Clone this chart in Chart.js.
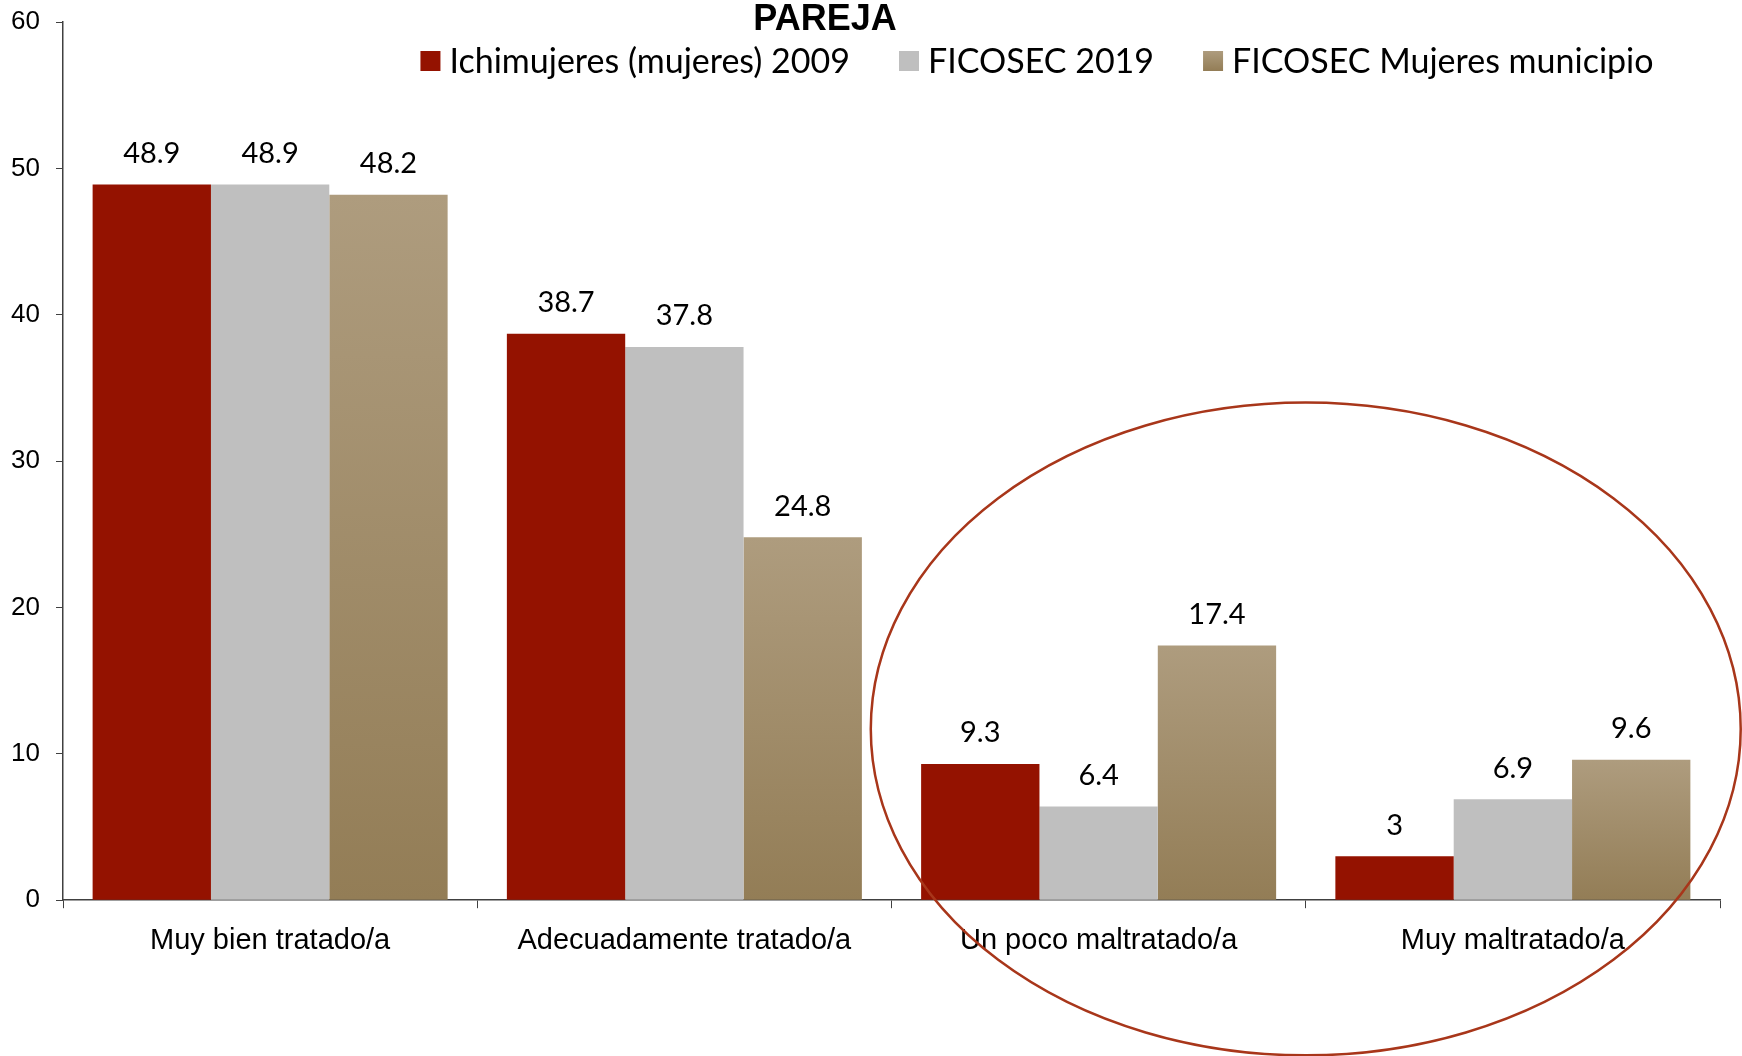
<!DOCTYPE html>
<html>
<head>
<meta charset="utf-8">
<script src="https://cdn.jsdelivr.net/npm/chart.js@4/dist/chart.umd.min.js"></script>
<style>
  html, body { margin: 0; padding: 0; background: #fff; }
  #wrap { width: 1742px; height: 1056px; position: relative; }
</style>
</head>
<body>
<div id="wrap"><canvas id="parejaChart"></canvas></div>
<script>
// PAREJA — comparación de trato percibido

const categories = ["Muy bien tratado/a", "Adecuadamente tratado/a", "Un poco maltratado/a", "Muy maltratado/a"];
const seriesNames = ["Ichimujeres (mujeres) 2009", "FICOSEC 2019", "FICOSEC Mujeres municipio"];
const ichimujeres2009 = [48.9, 38.7, 9.3, 3];
const ficosec2019 = [48.9, 37.8, 6.4, 6.9];
const ficosecMujeres = [48.2, 24.8, 17.4, 9.6];
const yTicks = [0, 10, 20, 30, 40, 50, 60];

const RED = "#941200";
const GRAY = "#bfbfbf";
const TAN_TOP = "#ae9c7e";
const TAN_BOTTOM = "#937d56";

// tan bars fade from light (top) to darker (bottom), one gradient per bar
function tanGradient(ctx) {
  const chart = ctx.chart;
  const y = chart.scales.y;
  if (!chart.chartArea || !y || ctx.parsed == null) return TAN_TOP;
  const top = y.getPixelForValue(ctx.parsed.y);
  const bottom = y.getPixelForValue(0);
  if (!isFinite(top) || bottom - top < 1) return TAN_TOP;
  const g = chart.ctx.createLinearGradient(0, top, 0, bottom);
  g.addColorStop(0, TAN_TOP);
  g.addColorStop(1, TAN_BOTTOM);
  return g;
}

// value labels above each bar
const barLabels = {
  id: "barLabels",
  afterDatasetsDraw(chart) {
    const c = chart.ctx;
    c.save();
    c.font = "29px Lato, 'Open Sans', sans-serif";
    c.fillStyle = "#000";
    c.textAlign = "center";
    c.textBaseline = "middle";
    chart.data.datasets.forEach((ds, di) => {
      const meta = chart.getDatasetMeta(di);
      meta.data.forEach((bar, i) => {
        c.fillText(String(ds.data[i]), bar.x, bar.y - 31);
      });
    });
    c.restore();
  }
};

// title + legend drawn over the top of the plot, plus the highlight ellipse
const overlay = {
  id: "overlay",
  afterDraw(chart) {
    const c = chart.ctx;
    const x = chart.scales.x, y = chart.scales.y;
    c.save();

    // title
    c.font = "bold 36px 'Liberation Sans', Arial, sans-serif";
    c.fillStyle = "#000";
    c.textAlign = "center";
    c.textBaseline = "middle";
    c.fillText("PAREJA", 825, 20);

    // legend
    c.font = "34px Lato, 'Open Sans', sans-serif";
    c.textAlign = "left";
    const sw = 20, swGap = 9, itemGap = 49;
    const widths = chart.data.datasets.map(ds => c.measureText(ds.label).width);
    const total = widths.reduce((a, w) => a + sw + swGap + w, 0) + itemGap * (widths.length - 1);
    let lx = 1037 - total / 2;
    const ly = 61;
    chart.data.datasets.forEach((ds, i) => {
      let fill = ds.legendColor;
      if (fill === "tan") {
        fill = c.createLinearGradient(0, ly - sw / 2, 0, ly + sw / 2);
        fill.addColorStop(0, TAN_TOP);
        fill.addColorStop(1, TAN_BOTTOM);
      }
      c.fillStyle = fill;
      c.fillRect(lx, ly - sw / 2, sw, sw);
      c.fillStyle = "#000";
      c.fillText(ds.label, lx + sw + swGap, ly + 1);
      lx += sw + swGap + widths[i] + itemGap;
    });

    // ellipse around the two "maltratado" groups
    const p2 = x.getPixelForValue(2), p3 = x.getPixelForValue(3);
    const cx = (p2 + p3) / 2;
    const rx = (p3 - p2) * 1.05;
    const cy = y.getPixelForValue(11.7);
    const ry = y.getPixelForValue(0) - y.getPixelForValue(22.3);
    c.beginPath();
    c.ellipse(cx, cy, rx, ry, 0, 0, Math.PI * 2);
    c.strokeStyle = "#a8361a";
    c.lineWidth = 2.5;
    c.stroke();

    c.restore();
  }
};

const canvas = document.getElementById("parejaChart");
new Chart(canvas, {
  type: "bar",
  data: {
    labels: categories,
    datasets: [
      { label: seriesNames[0], data: ichimujeres2009, backgroundColor: RED, legendColor: RED },
      { label: seriesNames[1], data: ficosec2019, backgroundColor: GRAY, legendColor: GRAY },
      { label: seriesNames[2], data: ficosecMujeres, backgroundColor: tanGradient, legendColor: "tan" }
    ]
  },
  options: {
    responsive: true,
    maintainAspectRatio: false,
    animation: false,
    layout: { padding: { left: 0, right: 22, top: 0, bottom: 83 } },
    datasets: { bar: { categoryPercentage: 0.857, barPercentage: 1.0, borderWidth: 0 } },
    plugins: {
      legend: { display: false },
      title: { display: false },
      tooltip: { enabled: false }
    },
    scales: {
      x: {
        grid: { display: true, drawOnChartArea: false, drawTicks: true, tickLength: 8, color: "#404040", offset: true },
        border: { color: "#404040", width: 1.5 },
        ticks: {
          color: "#000",
          padding: 15,
          maxRotation: 0,
          font: { family: "'Liberation Sans', Arial, sans-serif", size: 29 }
        }
      },
      y: {
        min: yTicks[0],
        max: yTicks[yTicks.length - 1],
        afterBuildTicks: axis => { axis.ticks = yTicks.map(v => ({ value: v })); },
        afterFit: axis => { axis.width = 63; axis.paddingTop = 22; },
        grid: { display: true, drawOnChartArea: false, drawTicks: true, tickLength: 7, color: "#404040" },
        border: { color: "#404040", width: 1.5 },
        ticks: {
          color: "#000",
          padding: 16,
          font: { family: "'Liberation Sans', Arial, sans-serif", size: 26 }
        }
      }
    }
  },
  plugins: [barLabels, overlay]
});
</script>
</body>
</html>
